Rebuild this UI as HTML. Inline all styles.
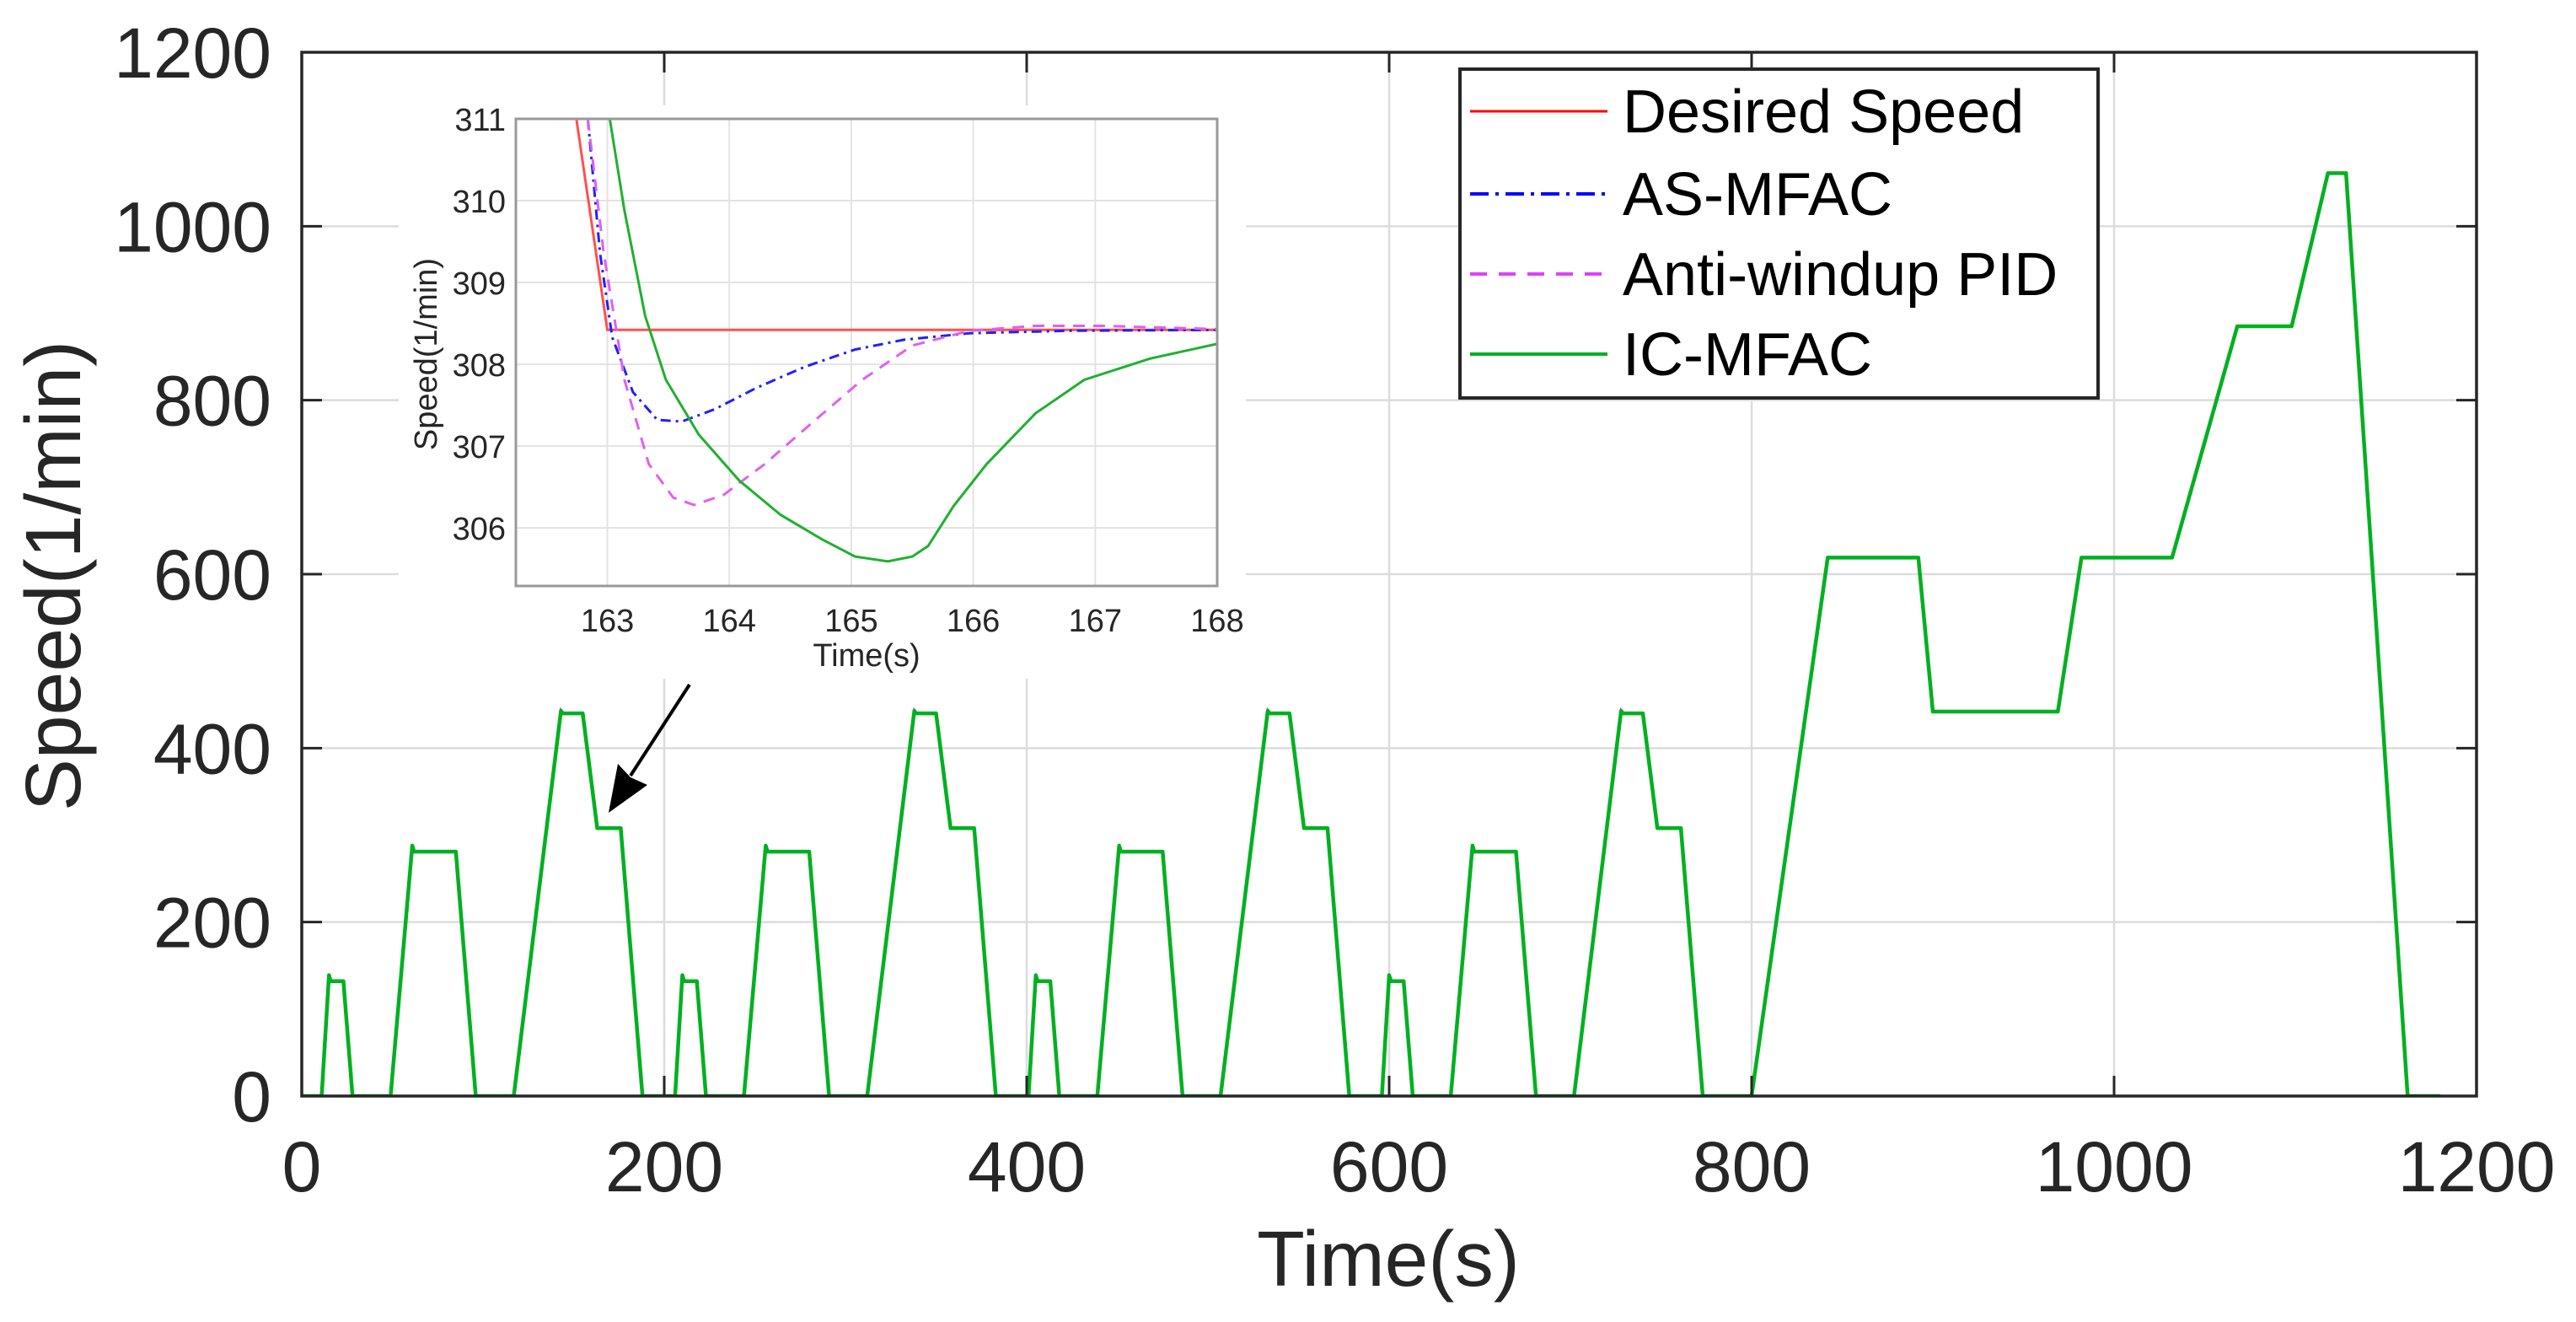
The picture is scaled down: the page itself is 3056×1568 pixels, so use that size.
<!DOCTYPE html>
<html><head><meta charset="utf-8"><style>
html,body{margin:0;padding:0;background:#fff;}
svg{display:block;font-family:"Liberation Sans",Arial,sans-serif;}
</style></head>
<body>
<svg id="chart" width="3056" height="1568" viewBox="0 0 3056 1568" xmlns="http://www.w3.org/2000/svg">
<defs>
<clipPath id="mainClip"><rect x="358" y="62" width="2580" height="1238"/></clipPath>
<clipPath id="insetClip"><rect x="612" y="141" width="832" height="554"/></clipPath>
</defs>
<rect x="0" y="0" width="3056" height="1568" fill="#fff"/>
<g id="mainGrid"></g>
<g id="mainSeries" clip-path="url(#mainClip)"></g>
<rect x="358" y="62" width="2580" height="1238" fill="none" stroke="#262626" stroke-width="3.5"/>
<g id="mainTicks"></g>
<text x="1647" y="1525" font-size="93" text-anchor="middle" fill="#262626">Time(s)</text>
<text transform="translate(95,683) rotate(-90)" font-size="93" text-anchor="middle" fill="#262626">Speed(1/min)</text>

<!-- inset -->
<rect x="473" y="125" width="1005" height="680" fill="#fff"/>
<g id="insetGrid"></g>
<g id="insetSeries" clip-path="url(#insetClip)"></g>
<rect x="612" y="141" width="832" height="554" fill="none" stroke="#999" stroke-width="3"/>
<g id="insetTicks"></g>
<text x="1028" y="790" font-size="38" text-anchor="middle" fill="#262626">Time(s)</text>
<text transform="translate(518,420) rotate(-90)" font-size="38" text-anchor="middle" fill="#262626">Speed(1/min)</text>

<!-- arrow -->
<g>
<line x1="818" y1="812" x2="748" y2="920" stroke="#000" stroke-width="4"/>
<polygon points="722,964 733,906 748,922 768,931" fill="#000"/>
</g>

<!-- legend -->
<g>
<rect x="1732" y="82" width="757" height="390" fill="#fff" stroke="#262626" stroke-width="4"/>
<g>
<line x1="1744" y1="132" x2="1907" y2="132" stroke="#ff0000" stroke-width="3"/>
<text x="1925" y="157" font-size="72" fill="#000">Desired Speed</text></g>
<g>
<line x1="1744" y1="230" x2="1907" y2="230" stroke="#0000ff" stroke-width="4" stroke-dasharray="22,8,4,8"/>
<text x="1925" y="255" font-size="72" fill="#000">AS-MFAC</text></g>
<g>
<line x1="1744" y1="325" x2="1907" y2="325" stroke="#e040fb" stroke-width="4" stroke-dasharray="20,14"/>
<text x="1925" y="350" font-size="72" fill="#000">Anti-windup PID</text></g>
<g>
<line x1="1744" y1="420" x2="1907" y2="420" stroke="#00b020" stroke-width="4"/>
<text x="1925" y="445" font-size="72" fill="#000">IC-MFAC</text></g>
</g>
</svg>
<script>
// ---- main chart data ----
var mainXTicks = [0, 200, 400, 600, 800, 1000, 1200];
var mainYTicks = [0, 200, 400, 600, 800, 1000, 1200];
var cycleTimes = [0, 11, 15, 16, 23, 28, 49, 61, 62, 85, 96, 117, 143, 144, 155, 163, 176, 188, 195];
var cycleSpeeds = [0, 0, 139, 132, 132, 0, 0, 288, 281, 281, 0, 0, 443, 440, 440, 308, 308, 0, 0];
var eudcTimes = [780, 800, 842, 892, 900, 969, 982, 1032, 1068, 1098, 1118, 1128, 1162, 1180];
var eudcSpeeds = [0, 0, 619, 619, 442, 442, 619, 619, 885, 885, 1061, 1061, 0, 0];
// ---- inset data ----
var insetXTicks = [163, 164, 165, 166, 167, 168];
var insetYTicks = [306, 307, 308, 309, 310, 311];
var desiredT = [162.5, 163.0, 168.0];
var desiredV = [313.5, 308.42, 308.42];
var asT = [162.84, 162.94, 163.04, 163.21, 163.41, 163.61, 163.88, 164.22, 164.62, 165.03, 165.43, 165.97, 166.78, 168];
var asV = [311.0, 309.36, 308.33, 307.66, 307.32, 307.3, 307.45, 307.71, 307.97, 308.18, 308.30, 308.38, 308.41, 308.42];
var pidT = [162.84, 162.97, 163.14, 163.34, 163.54, 163.71, 163.95, 164.29, 164.69, 165.09, 165.5, 165.97, 166.51, 167.05, 168];
var pidV = [311.0, 309.36, 307.81, 306.78, 306.37, 306.28, 306.40, 306.78, 307.30, 307.81, 308.23, 308.41, 308.47, 308.47, 308.43];
var icT = [163.02, 163.14, 163.31, 163.48, 163.75, 164.08, 164.42, 164.76, 165.03, 165.30, 165.50, 165.63, 165.84, 166.11, 166.51, 166.91, 167.45, 168];
var icV = [311.0, 309.88, 308.59, 307.81, 307.14, 306.58, 306.16, 305.86, 305.65, 305.59, 305.65, 305.78, 306.27, 306.78, 307.40, 307.81, 308.07, 308.25];

var NS = "http://www.w3.org/2000/svg";
function mk(tag, attrs, parent){var e=document.createElementNS(NS,tag);for(var k in attrs)e.setAttribute(k,attrs[k]);parent.appendChild(e);return e;}
function mx(t){return 358 + (t-0)/1200*2580;}
function my(v){return 1300 - v/1200*1238;}
function ix(t){return 612 + (t-162.25)/(168-162.25)*832;}
function iy(v){return 695 - (v-305.29)/(311-305.29)*554;}

var mg=document.getElementById('mainGrid'), mt=document.getElementById('mainTicks');
mainXTicks.forEach(function(t){
  var l=mk('line',{x1:mx(t),x2:mx(t),y1:62,y2:1300,stroke:'#dcdcdc','stroke-width':2.5},mg);
  
  
  var tk=mk('line',{x1:mx(t),x2:mx(t),y1:1300,y2:1276,stroke:'#262626','stroke-width':3},mt);
  
  
  var tk2=mk('line',{x1:mx(t),x2:mx(t),y1:62,y2:86,stroke:'#262626','stroke-width':3},mt);
  
  
  var tx=mk('text',{x:mx(t),y:1413,'font-size':84,'text-anchor':'middle',fill:'#262626'},mt);
  tx.textContent=t;
  
  
});
mainYTicks.forEach(function(v){
  var l=mk('line',{x1:358,x2:2938,y1:my(v),y2:my(v),stroke:'#dcdcdc','stroke-width':2.5},mg);
  
  
  var tk=mk('line',{x1:358,x2:382,y1:my(v),y2:my(v),stroke:'#262626','stroke-width':3},mt);
  
  
  var tk2=mk('line',{x1:2914,x2:2938,y1:my(v),y2:my(v),stroke:'#262626','stroke-width':3},mt);
  
  
  var tx=mk('text',{x:322,y:my(v)+30,'font-size':84,'text-anchor':'end',fill:'#262626'},mt);
  tx.textContent=v;
  
  
});

// build full main series from cycle arrays
var ms=document.getElementById('mainSeries');
var pts=[];
for(var c=0;c<4;c++){for(var i=0;i<cycleTimes.length;i++){pts.push([cycleTimes[i]+c*195, cycleSpeeds[i]]);}}
for(var j=0;j<eudcTimes.length;j++){pts.push([eudcTimes[j],eudcSpeeds[j]]);}
var d=pts.map(function(p,i){return (i?'L':'M')+mx(p[0]).toFixed(1)+','+my(p[1]).toFixed(1);}).join(' ');
var s1=mk('path',{d:d,fill:'none',stroke:'#ff0000','stroke-width':3},ms);


var s2=mk('path',{d:d,fill:'none',stroke:'#0000ff','stroke-width':3},ms);


var s3=mk('path',{d:d,fill:'none',stroke:'#e040fb','stroke-width':3},ms);


var s4=mk('path',{d:d,fill:'none',stroke:'#00b020','stroke-width':4.5,'stroke-linejoin':'round'},ms);



// inset
var ig=document.getElementById('insetGrid'), it=document.getElementById('insetTicks'), is=document.getElementById('insetSeries');
insetXTicks.forEach(function(t){
  var l=mk('line',{x1:ix(t),x2:ix(t),y1:141,y2:695,stroke:'#e3e3e3','stroke-width':2},ig);
  
  
  var tx=mk('text',{x:ix(t),y:749,'font-size':38,'text-anchor':'middle',fill:'#262626'},it);
  tx.textContent=t;
  
  
});
insetYTicks.forEach(function(v){
  var l=mk('line',{x1:612,x2:1444,y1:iy(v),y2:iy(v),stroke:'#e3e3e3','stroke-width':2},ig);
  
  
  var tx=mk('text',{x:600,y:iy(v)+14,'font-size':38,'text-anchor':'end',fill:'#262626'},it);
  tx.textContent=v;
  
  
});
function ipath(T,V){return T.map(function(t,i){return (i?'L':'M')+ix(t).toFixed(1)+','+iy(V[i]).toFixed(1);}).join(' ');}
var i1=mk('path',{d:ipath(desiredT,desiredV),fill:'none',stroke:'#ff5050','stroke-width':3},is);


var i2=mk('path',{d:ipath(asT,asV),fill:'none',stroke:'#2020ff','stroke-width':3,'stroke-dasharray':'12,6,3,6'},is);


var i3=mk('path',{d:ipath(pidT,pidV),fill:'none',stroke:'#e060f0','stroke-width':3,'stroke-dasharray':'14,10'},is);


var i4=mk('path',{d:ipath(icT,icV),fill:'none',stroke:'#20b030','stroke-width':3},is);


</script>
</body></html>
